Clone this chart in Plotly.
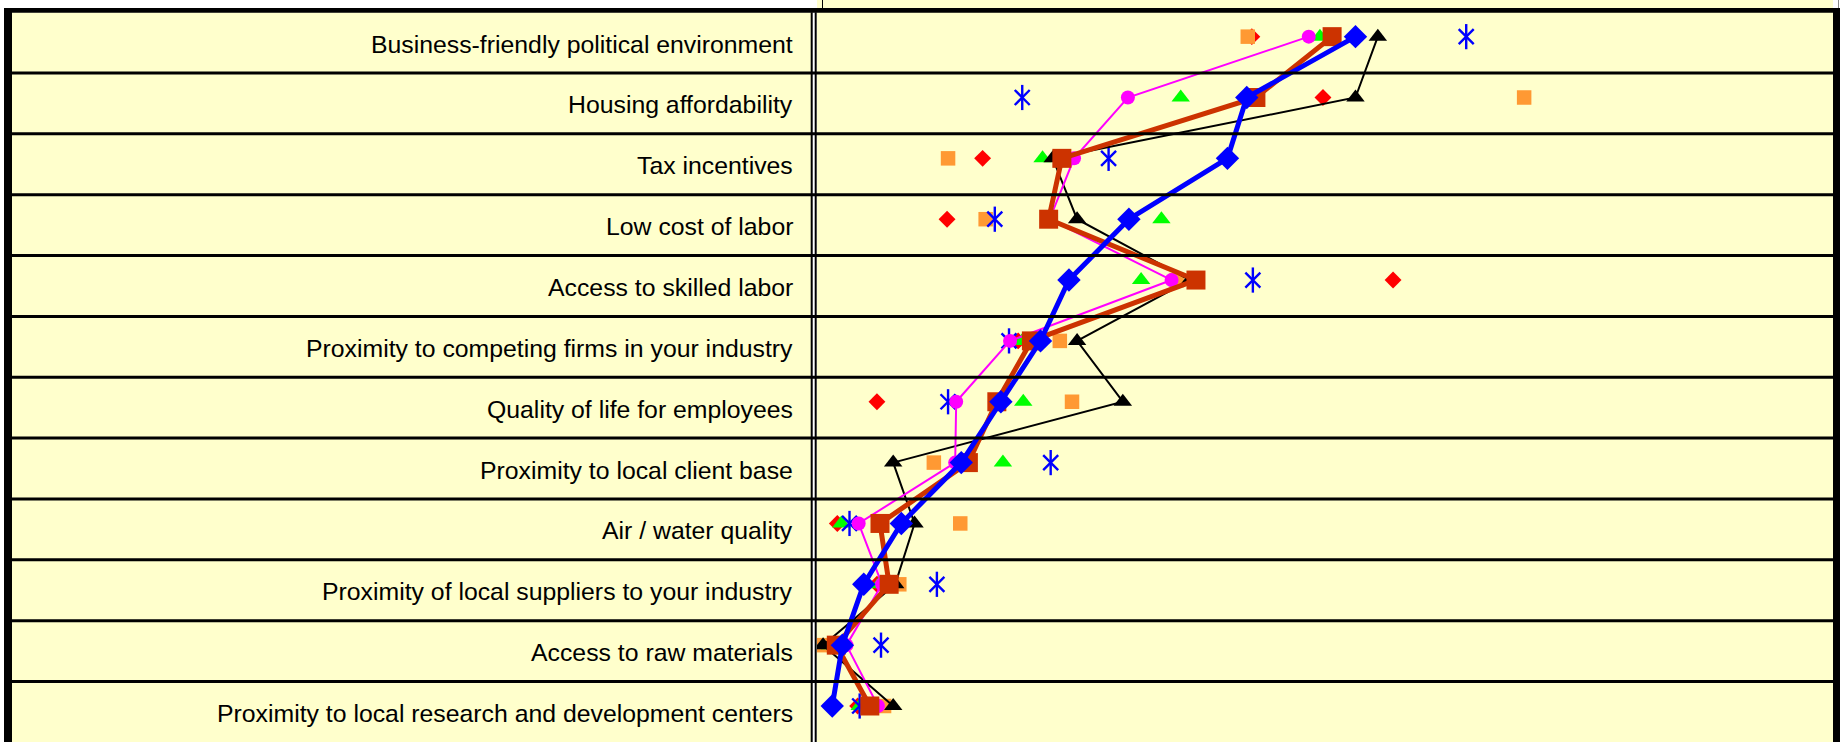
import plotly.graph_objects as go

W, H = 1842, 742

categories = [
    "Business-friendly political environment",
    "Housing affordability",
    "Tax incentives",
    "Low cost of labor",
    "Access to skilled labor",
    "Proximity to competing firms in your industry",
    "Quality of life for employees",
    "Proximity to local client base",
    "Air / water quality",
    "Proximity of local suppliers to your industry",
    "Access to raw materials",
    "Proximity to local research and development centers",
]

# series values (arbitrary 0-100 scale)
blue_line = [53.0, 42.3, 40.4, 30.7, 24.8, 22.0, 18.1, 14.2, 8.3, 4.6, 2.5, 1.5]
brown_line = [50.7, 43.2, 24.1, 22.8, 37.3, 21.1, 17.7, 14.9, 6.2, 7.1, 1.9, 5.2]
black_line = [55.2, 53.0, 23.2, 25.6, 36.7, 25.6, 30.1, 7.5, 9.6, 7.7, 0.6, 7.5]
magenta_line = [48.4, 30.6, 25.3, 22.9, 34.9, 19.0, 13.7, 13.6, 4.1, 6.4, 2.9, 6.0]
orange_pts = [42.4, 69.6, 12.9, 16.6, 35.4, 23.9, 25.1, 11.5, 14.1, 8.1, 0.3, 6.6]
red_pts = [42.8, 49.8, 16.3, 12.8, 56.7, 19.8, 5.9, 14.3, 2.0, 5.9, 1.1, 4.0]
green_pts = [49.5, 35.8, 22.2, 33.9, 31.9, 20.2, 20.3, 18.3, 2.4, 6.1, 1.3, 4.2]
star_pts = [63.9, 20.2, 28.7, 17.5, 42.9, 18.9, 12.9, 23.0, 3.2, 11.8, 6.3, 4.2]

# geometry (pixels)
ROW_TOP = 12.15
ROW_H = 60.85
MARK_OFF = 24.5
PLOT_L, PLOT_R = 817, 1833
YEL = "#FFFFCC"


def px(x):
    return x / W


def py(y):
    return 1 - y / H


fig = go.Figure()

common = dict(y=categories, hoverinfo="skip", showlegend=False)

fig.add_trace(go.Scatter(x=red_pts, mode="markers",
                         marker=dict(symbol="diamond", size=13, color="#FF0000"), **common))
fig.add_trace(go.Scatter(x=orange_pts, mode="markers",
                         marker=dict(symbol="square", size=14.5, color="#FF9933"), **common))
fig.add_trace(go.Scatter(x=green_pts, mode="markers",
                         marker=dict(symbol="triangle-up", size=16, color="#00FF00"), **common))
fig.add_trace(go.Scatter(x=star_pts, mode="markers",
                         marker=dict(symbol="line-ns-open", size=18, color="#0000FF",
                                     line=dict(color="#0000FF", width=2.4)), **common))
fig.add_trace(go.Scatter(x=star_pts, mode="markers",
                         marker=dict(symbol="x-thin-open", size=15, color="#0000FF",
                                     line=dict(color="#0000FF", width=2.4)), **common))
fig.add_trace(go.Scatter(x=black_line, mode="lines+markers",
                         line=dict(color="#000000", width=2),
                         marker=dict(symbol="triangle-up", size=16, color="#000000"), **common))
fig.add_trace(go.Scatter(x=magenta_line, mode="lines+markers",
                         line=dict(color="#FF00FF", width=2),
                         marker=dict(symbol="circle", size=14, color="#FF00FF"), **common))
fig.add_trace(go.Scatter(x=brown_line, mode="lines+markers",
                         line=dict(color="#CC3300", width=5),
                         marker=dict(symbol="square", size=19, color="#CC3300"), **common))
fig.add_trace(go.Scatter(x=blue_line, mode="lines+markers",
                         line=dict(color="#0000FF", width=5),
                         marker=dict(symbol="diamond", size=18, color="#0000FF"), **common))

n = len(categories)
k_top = -(ROW_TOP + MARK_OFF) / ROW_H
k_bot = (H - ROW_TOP - MARK_OFF) / ROW_H

shapes = []
# left label column background
shapes.append(dict(type="rect", xref="paper", yref="paper", layer="below",
                   x0=px(12), x1=px(811), y0=py(H), y1=py(ROW_TOP),
                   fillcolor=YEL, line=dict(width=0)))
# row separators
for j in range(1, n):
    yy = py(ROW_TOP + ROW_H * j)
    shapes.append(dict(type="line", xref="paper", yref="paper",
                       x0=px(12), x1=px(PLOT_R), y0=yy, y1=yy,
                       line=dict(color="black", width=3)))
# double vertical divider
for x0, x1 in [(810.7, 812.7), (814.7, 816.7)]:
    shapes.append(dict(type="rect", xref="paper", yref="paper",
                       x0=px(x0), x1=px(x1), y0=py(H), y1=py(ROW_TOP),
                       fillcolor="black", line=dict(width=0)))
# thick outer frame
shapes.append(dict(type="rect", xref="paper", yref="paper",
                   x0=px(4), x1=px(1840), y0=py(12.7), y1=py(8),
                   fillcolor="black", line=dict(width=0)))
shapes.append(dict(type="rect", xref="paper", yref="paper",
                   x0=px(4), x1=px(12), y0=py(H), y1=py(8),
                   fillcolor="black", line=dict(width=0)))
shapes.append(dict(type="rect", xref="paper", yref="paper",
                   x0=px(1833), x1=px(1840), y0=py(H), y1=py(8),
                   fillcolor="black", line=dict(width=0)))
# thin lines in top white strip
shapes.append(dict(type="line", xref="paper", yref="paper",
                   x0=px(822.5), x1=px(822.5), y0=py(8), y1=py(0),
                   line=dict(color="black", width=1)))
shapes.append(dict(type="line", xref="paper", yref="paper",
                   x0=px(1838.5), x1=px(1838.5), y0=py(8), y1=py(0),
                   line=dict(color="#888888", width=1)))

annotations = []
for i, cat in enumerate(categories):
    annotations.append(dict(text=cat, xref="paper", yref="paper",
                            x=px(795), y=py(ROW_TOP + ROW_H * (i + 0.5) + 1.5),
                            xanchor="right", yanchor="middle", showarrow=False,
                            font=dict(family="Liberation Sans, Arial, sans-serif",
                                      size=24.8, color="black")))

fig.update_layout(
    width=W, height=H,
    margin=dict(l=0, r=0, t=0, b=0),
    paper_bgcolor="white",
    plot_bgcolor=YEL,
    xaxis=dict(domain=[px(PLOT_L), px(PLOT_R)], range=[0, 100],
               showgrid=False, zeroline=False, showticklabels=False,
               ticks="", showline=False, fixedrange=True),
    yaxis=dict(type="category", domain=[0, 1], range=[k_bot, k_top],
               showgrid=False, zeroline=False, showticklabels=False,
               ticks="", showline=False, fixedrange=True),
    shapes=shapes,
    annotations=annotations,
    showlegend=False,
)

fig.write_html(
    "out.html",
    config={"displayModeBar": False},
    post_script=("document.documentElement.style.margin='0';"
                 "document.documentElement.style.overflow='hidden';"
                 "document.body.style.margin='0';"
                 "document.body.style.padding='0';"
                 "document.body.style.overflow='hidden';"),
)
